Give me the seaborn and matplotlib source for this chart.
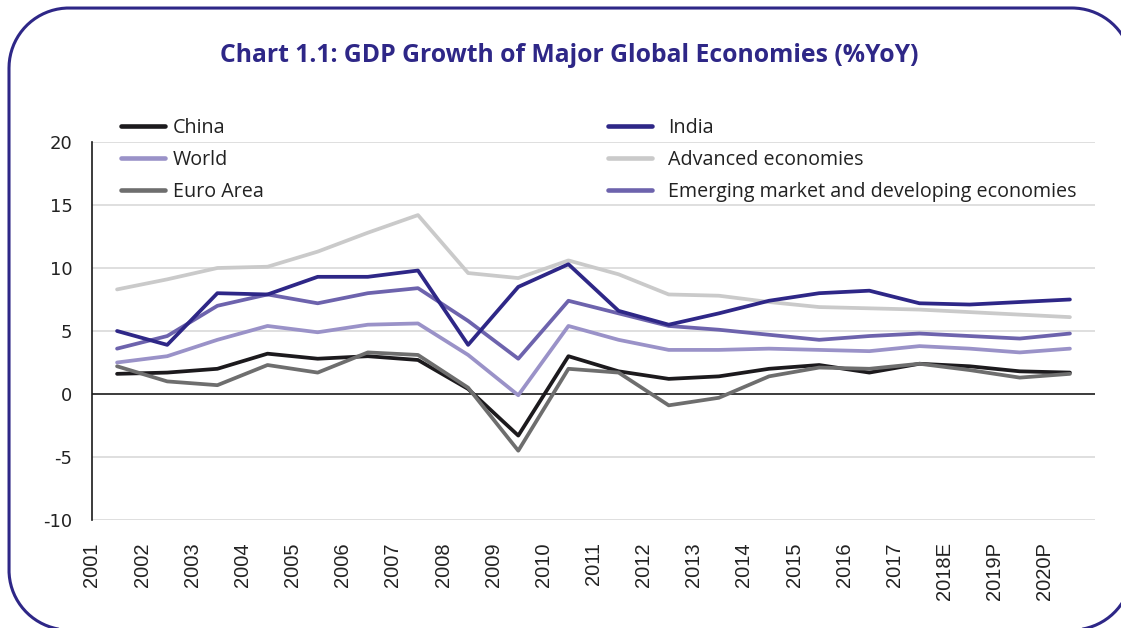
import matplotlib
matplotlib.use("Agg")
import matplotlib.pyplot as plt
import seaborn as sns
import pandas as pd
import numpy as np
from matplotlib.lines import Line2D

years = ["2001", "2002", "2003", "2004", "2005", "2006", "2007", "2008", "2009", "2010",
         "2011", "2012", "2013", "2014", "2015", "2016", "2017", "2018E", "2019P", "2020P"]

china = [1.6, 1.7, 2.0, 3.2, 2.8, 3.0, 2.7, 0.4, -3.3, 3.0,
         1.8, 1.2, 1.4, 2.0, 2.3, 1.7, 2.4, 2.2, 1.8, 1.7]
india = [5.0, 3.9, 8.0, 7.9, 9.3, 9.3, 9.8, 3.9, 8.5, 10.3,
         6.6, 5.5, 6.4, 7.4, 8.0, 8.2, 7.2, 7.1, 7.3, 7.5]
world = [2.5, 3.0, 4.3, 5.4, 4.9, 5.5, 5.6, 3.1, -0.1, 5.4,
         4.3, 3.5, 3.5, 3.6, 3.5, 3.4, 3.8, 3.6, 3.3, 3.6]
advanced = [8.3, 9.1, 10.0, 10.1, 11.3, 12.8, 14.2, 9.6, 9.2, 10.6,
            9.5, 7.9, 7.8, 7.3, 6.9, 6.8, 6.7, 6.5, 6.3, 6.1]
euro = [2.2, 1.0, 0.7, 2.3, 1.7, 3.3, 3.1, 0.5, -4.5, 2.0,
        1.7, -0.9, -0.3, 1.4, 2.1, 2.0, 2.4, 1.9, 1.3, 1.6]
emde = [3.6, 4.6, 7.0, 7.9, 7.2, 8.0, 8.4, 5.8, 2.8, 7.4,
        6.4, 5.4, 5.1, 4.7, 4.3, 4.6, 4.8, 4.6, 4.4, 4.8]

series = {
    "China": china,
    "India": india,
    "World": world,
    "Advanced economies": advanced,
    "Euro Area": euro,
    "Emerging market and developing economies": emde,
}
colors = {
    "China": "#1c1a1d",
    "India": "#2e2787",
    "World": "#9a92c8",
    "Advanced economies": "#cacaca",
    "Euro Area": "#6e6e6e",
    "Emerging market and developing economies": "#6d63ad",
}
draw_order = ["Advanced economies", "World", "Emerging market and developing economies",
              "India", "China", "Euro Area"]

rows = []
for name, vals in series.items():
    for i, v in enumerate(vals):
        rows.append({"series": name, "pos": i + 0.5, "value": v})
df = pd.DataFrame(rows)

sns.set_theme(style="white")
plt.rcParams["font.family"] = ["Liberation Sans", "DejaVu Sans"]

W, H = 1121, 628
fig = plt.figure(figsize=(W / 100, H / 100), dpi=100)

# background axes in pixel units for the rounded frame (y measured upward)
bg = fig.add_axes([0, 0, 1, 1])
bg.set_xlim(0, W)
bg.set_ylim(0, H)
bg.axis("off")


def rounded_rect(x0, y0, x1, y1, r, n=40):
    pts = []
    corners = [((x1 - r, y1 - r), 0, 90), ((x0 + r, y1 - r), 90, 180),
               ((x0 + r, y0 + r), 180, 270), ((x1 - r, y0 + r), 270, 360)]
    for (cx, cy), a0, a1 in corners:
        t = np.radians(np.linspace(a0, a1, n))
        pts.append(np.column_stack([cx + r * np.cos(t), cy + r * np.sin(t)]))
    pts = np.vstack(pts + [pts[0][:1]])
    return pts[:, 0], pts[:, 1]


bx, by = rounded_rect(9, H - 630, 1132, H - 8, 60)
bg.plot(bx, by, color="#2e2787", lw=2.2, clip_on=False, solid_joinstyle="round")

ax = fig.add_axes([92 / W, 1 - 520 / H, (1095 - 92) / W, (520 - 142) / H])

for y in [-10, -5, 5, 10, 15, 20]:
    ax.axhline(y, color="#d9d9d9", lw=1.2, zorder=0)
ax.axhline(0, color="#1a1a1a", lw=1.2, zorder=1)

sns.lineplot(data=df, x="pos", y="value", hue="series", hue_order=draw_order,
             palette=colors, linewidth=2.7, legend=False, ax=ax, sort=False,
             estimator=None)

ax.set_xlim(0, 20)
ax.set_ylim(-10, 20)
ax.set_yticks([-10, -5, 0, 5, 10, 15, 20])
ax.set_yticklabels(["-10", "-5", "0", "5", "10", "15", "20"], fontsize=13,
                   color="#222222", family=["DejaVu Sans"])
ax.set_xticks(np.arange(len(years)))
ax.set_xticklabels(years, rotation=90, fontsize=14.5, color="#222222")
ax.tick_params(axis="y", length=0, pad=14)
ax.tick_params(axis="x", length=0, pad=16)
ax.set_xlabel("")
ax.set_ylabel("")
for s in ["top", "right", "bottom"]:
    ax.spines[s].set_visible(False)
ax.spines["left"].set_color("#1a1a1a")
ax.spines["left"].set_linewidth(1.2)
ax.grid(False)

legfont = {"family": ["Open Sans", "DejaVu Sans"], "size": 14.2}
left_names = ["China", "World", "Euro Area"]
right_names = ["India", "Advanced economies", "Emerging market and developing economies"]

def mk(names):
    return [Line2D([0], [0], color=colors[n], lw=3.3) for n in names]

leg1 = fig.legend(mk(left_names), left_names, loc="upper left",
                  bbox_to_anchor=(121 / W, 1 - 118 / H), frameon=False,
                  prop=legfont, handlelength=2.23, handletextpad=0.4, labelspacing=0.6,
                  borderaxespad=0, borderpad=0)
leg2 = fig.legend(mk(right_names), right_names, loc="upper left",
                  bbox_to_anchor=(608 / W, 1 - 118 / H), frameon=False,
                  prop=legfont, handlelength=2.23, handletextpad=0.81, labelspacing=0.6,
                  borderaxespad=0, borderpad=0)
for leg in (leg1, leg2):
    for t in leg.get_texts():
        t.set_color("#222222")

fig.text(569 / W, 1 - 55 / H, "Chart 1.1: GDP Growth of Major Global Economies (%YoY)",
         ha="center", va="center", fontsize=17.8, fontweight="bold", color="#2e2787",
         family=["Open Sans", "DejaVu Sans"])

fig.savefig("out.png", dpi=100)
